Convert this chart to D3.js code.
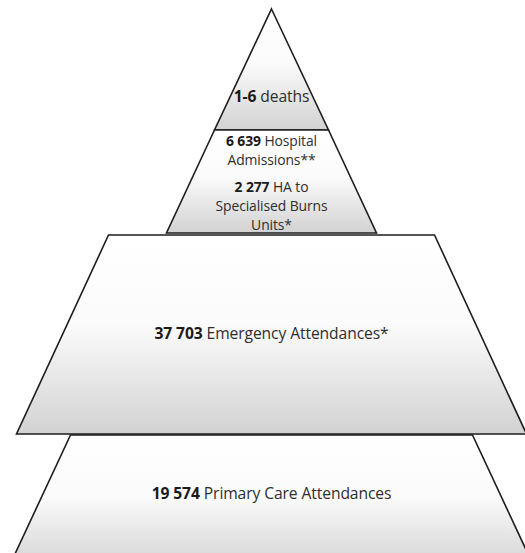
<!DOCTYPE html>
<html>
<head>
<meta charset="utf-8">
<script src="https://cdn.jsdelivr.net/npm/d3@7"></script>
<style>
  html, body { margin: 0; padding: 0; background: #fff; }
  svg { display: block; }
</style>
</head>
<body>
<div id="chart"></div>
<script>
// ---- data ----
const tiers = ["Deaths", "Hospital Admissions", "Emergency Attendances", "Primary Care Attendances"];
const valueLabels = ["1-6", "6 639", "37 703", "19 574"];
const textLines = [
  [["1-6", " deaths"]],
  [["6 639", " Hospital"], ["", "Admissions**"], ["2 277", " HA to"], ["", "Specialised Burns"], ["", "Units*"]],
  [["37 703", " Emergency Attendances*"]],
  [["19 574", " Primary Care Attendances"]]
];

// ---- layout ----
const W = 525, H = 553;
const cx = 271.5;
const svg = d3.select("#chart").append("svg").attr("width", W).attr("height", H);

const geom = [
  { y0: 9,   y1: 130, h0: 0,   h1: 57 },
  { y0: 130, y1: 233, h0: 57,  h1: 105 },
  { y0: 235, y1: 434, h0: 163, h1: 255 },
  { y0: 435, y1: 600, h0: 201, h1: 278 }
];
const gradEnd = [130, 233, 434, 570];

const defs = svg.append("defs");
const gradStops = [
  { o: 0,   c: "#ffffff" },
  { o: 0.45, c: "#fbfbfb" },
  { o: 1,   c: "#d2d2d2" }
];
geom.forEach((g, i) => {
  const lg = defs.append("linearGradient")
    .attr("id", "g" + i)
    .attr("gradientUnits", "userSpaceOnUse")
    .attr("x1", 0).attr("x2", 0)
    .attr("y1", g.y0).attr("y2", gradEnd[i]);
  lg.selectAll("stop").data(gradStops).join("stop")
    .attr("offset", d => d.o).attr("stop-color", d => d.c);
});

const line = d3.line();
svg.selectAll("path.tier").data(geom).join("path")
  .attr("class", "tier")
  .attr("d", g => line([[cx - g.h0, g.y0], [cx + g.h0, g.y0], [cx + g.h1, g.y1], [cx - g.h1, g.y1]]) + "Z")
  .attr("fill", (g, i) => `url(#g${i})`)
  .attr("stroke", "#1e1e1e")
  .attr("stroke-width", 1.6)
  .attr("stroke-linejoin", "miter");

// ---- labels ----
const baselines = [
  [102],
  [146, 165, 192, 211, 230],
  [339],
  [499]
];
const font = "'Open Sans', Lato, sans-serif";
const texts = [];
textLines.forEach((lines, i) => {
  lines.forEach((ln, j) => {
    const t = svg.append("text")
      .attr("x", cx)
      .attr("y", baselines[i][j])
      .attr("text-anchor", "middle")
      .attr("font-family", font)
      .attr("font-size", 14)
      .attr("letter-spacing", -0.1)
      .attr("fill", "#1a1a1a");
    if (ln[0]) t.append("tspan").attr("font-weight", "bold").text(ln[0]);
    t.append("tspan").attr("fill", "#2e2e2e").text(ln[1]);
    texts.push({ t, i, j });
  });
});
// scale the font so the emergency label matches its width in the reference (~234px)
const ref = texts.find(d => d.i === 2).t.node();
const w14 = ref.getComputedTextLength();
const fs = Math.max(11, Math.min(18, 14 * 234 / w14));
texts.forEach(d => d.t.attr("font-size", d.i === 1 ? Math.min(fs, 13.9) : fs));
</script>
</body>
</html>
